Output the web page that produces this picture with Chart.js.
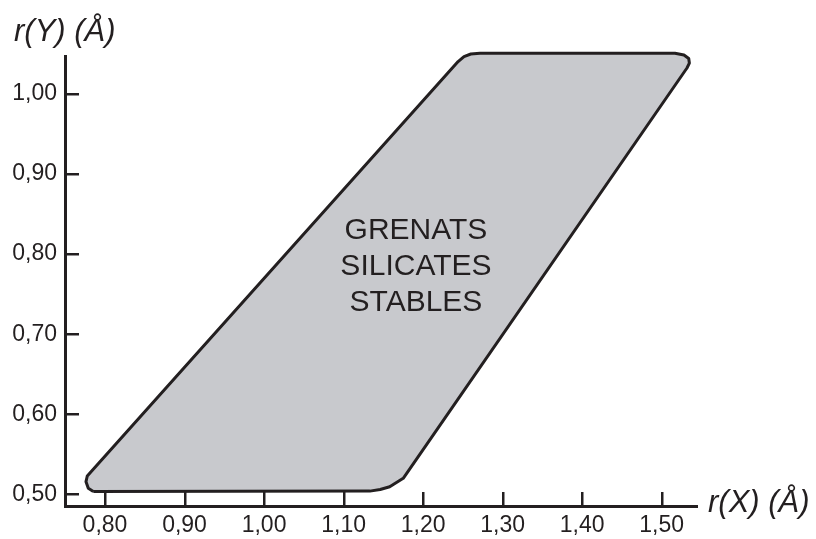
<!DOCTYPE html>
<html><head><meta charset="utf-8">
<script src="https://cdn.jsdelivr.net/npm/chart.js@4/dist/chart.umd.min.js"></script>
<style>html,body{margin:0;padding:0;background:#fff}canvas{display:block}</style>
</head><body>
<canvas id="c" width="816" height="539"></canvas>
<script>
// ---- data ----
const xTickValues = [0.80, 0.90, 1.00, 1.10, 1.20, 1.30, 1.40, 1.50];
const xTickLabels = ['0,80', '0,90', '1,00', '1,10', '1,20', '1,30', '1,40', '1,50'];
const yTickValues = [0.50, 0.60, 0.70, 0.80, 0.90, 1.00];
const yTickLabels = ['0,50', '0,60', '0,70', '0,80', '0,90', '1,00'];

// outline of the stable-garnet field (r(X), r(Y)), clockwise, rounded corners
const regionX = [0.7853, 0.7790, 0.7761, 0.7777, 0.7833, 1.2440, 1.2514, 1.2600, 1.2715, 1.5167, 1.5280, 1.5340, 1.5348, 1.5318, 1.1750, 1.1580, 1.1460, 1.1330, 0.7853];
const regionY = [0.5035, 0.5075, 0.5158, 0.5229, 0.5291, 1.0406, 1.0468, 1.0500, 1.0510, 1.0510, 1.0487, 1.0443, 1.0387, 1.0325, 0.5200, 0.5095, 0.5060, 0.5040, 0.5035];

const regionLabel = ['GRENATS', 'SILICATES', 'STABLES'];
const regionLabelX = 1.191;
const regionLabelY = 0.7840;

const xTitle = 'r(X) (Å)';
const yTitle = 'r(Y) (Å)';

const xRange = [0.7497, 1.5444];
const yRange = [0.4854, 1.0475];

// ---- styles ----
const INK = '#231f20';
const FILL = '#c8c9cd';
const FONT = "'Liberation Sans', Arial, Helvetica, sans-serif";
Chart.defaults.font.family = FONT;
Chart.defaults.color = INK;

const shapeFill = {
  id: 'shapeFill',
  beforeDatasetDraw(chart, args) {
    const line = args.meta.dataset;
    if (!line) return;
    const ctx = chart.ctx;
    ctx.save();
    ctx.beginPath();
    line.path(ctx);
    ctx.closePath();
    ctx.fillStyle = FILL;
    ctx.fill();
    ctx.restore();
  }
};

const decor = {
  id: 'decor',
  afterDraw(chart) {
    const ctx = chart.ctx;
    const xs = chart.scales.x, ys = chart.scales.y;
    const area = chart.chartArea;
    ctx.save();
    ctx.strokeStyle = INK;
    ctx.lineWidth = 2.5;
    ctx.lineCap = 'butt';
    const tl = 14;
    xTickValues.forEach(v => {
      const px = Math.round(xs.getPixelForValue(v)) + 0.25;
      ctx.beginPath();
      ctx.moveTo(px, area.bottom);
      ctx.lineTo(px, area.bottom - tl);
      ctx.stroke();
    });
    yTickValues.forEach(v => {
      const py = Math.round(ys.getPixelForValue(v)) + 0.25;
      ctx.beginPath();
      ctx.moveTo(area.left, py);
      ctx.lineTo(area.left + tl, py);
      ctx.stroke();
    });
    // region label
    ctx.fillStyle = INK;
    ctx.font = '30px ' + FONT;
    ctx.textAlign = 'center';
    ctx.textBaseline = 'middle';
    const cx = xs.getPixelForValue(regionLabelX);
    const cy = ys.getPixelForValue(regionLabelY);
    const lh = 36;
    regionLabel.forEach((t, i) => {
      ctx.fillText(t, cx, cy + (i - (regionLabel.length - 1) / 2) * lh);
    });
    // axis titles
    ctx.font = 'italic 31px ' + FONT;
    ctx.textAlign = 'left';
    ctx.textBaseline = 'alphabetic';
    ctx.fillText(yTitle, 14, 41);
    ctx.fillText(xTitle, area.right + 11, 512);
    ctx.restore();
  }
};

new Chart(document.getElementById('c'), {
  type: 'line',
  data: {
    datasets: [{
      data: regionX.map((x, i) => ({ x: x, y: regionY[i] })),
      borderColor: INK,
      borderWidth: 3,
      backgroundColor: FILL,
      fill: false,
      tension: 0,
      pointRadius: 0,
      borderJoinStyle: 'round',
      clip: false
    }]
  },
  options: {
    responsive: false,
    animation: false,
    devicePixelRatio: 1,
    layout: { padding: { left: 0, top: 56, right: 119, bottom: 0 } },
    plugins: { legend: { display: false }, tooltip: { enabled: false } },
    scales: {
      x: {
        type: 'linear',
        min: xRange[0], max: xRange[1],
        afterBuildTicks: s => { s.ticks = xTickValues.map(v => ({ value: v })); },
        afterFit: s => { s.height = 33; },
        ticks: {
          autoSkip: false, maxRotation: 0, minRotation: 0, padding: 6,
          color: INK, font: { size: 23, family: FONT },
          callback: (v, i) => xTickLabels[i]
        },
        grid: { display: false, drawTicks: false },
        border: { display: true, color: INK, width: 3 }
      },
      y: {
        type: 'linear',
        min: yRange[0], max: yRange[1],
        afterBuildTicks: s => { s.ticks = yTickValues.map(v => ({ value: v })); },
        afterFit: s => { s.width = 65; },
        ticks: {
          autoSkip: false, padding: 8,
          color: INK, font: { size: 23, family: FONT },
          callback: (v, i) => yTickLabels[i]
        },
        grid: { display: false, drawTicks: false },
        border: { display: true, color: INK, width: 3 }
      }
    }
  },
  plugins: [shapeFill, decor]
});
</script>
</body></html>
